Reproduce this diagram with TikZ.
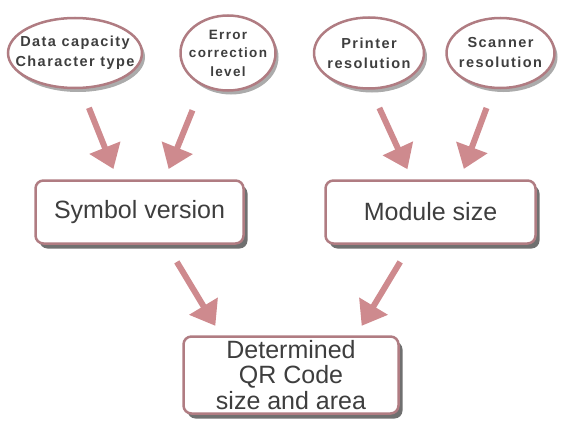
\documentclass[tikz,border=0pt]{standalone}
\usepackage{fontspec}
\setmainfont{Liberation Sans}
\newfontfamily\ellfont[LetterSpace=10]{Liberation Sans}
\usetikzlibrary{shapes}
\usetikzlibrary{arrows.meta}
\usetikzlibrary{positioning}
\usetikzlibrary{shadows}
\definecolor{rimrose}{RGB}{176,124,130}
\definecolor{arrowrose}{RGB}{206,138,142}
\definecolor{textgray}{RGB}{62,62,62}

\begin{document}
\begin{tikzpicture}[x=1pt,y=1pt,node distance=36pt,shorten <=20pt,shorten >=11pt]%,auto
        \tikzstyle{ell}=[ellipse, draw=rimrose, line width=2.5pt, fill=white, minimum width=134pt, minimum height=70pt, inner xsep=-14pt, inner ysep=-8pt, align=center, text=textgray, font=\ellfont\bfseries\fontsize{14.5}{20}\selectfont, drop shadow={shadow xshift=3pt, shadow yshift=-4pt, fill=black!55, opacity=.6}]
        \tikzstyle{box}=[rectangle, rounded corners=8pt, draw=rimrose, line width=2.5pt, fill=white, minimum height=63pt, inner ysep=1pt, align=center, text=textgray, font=\fontsize{25}{25.5}\selectfont, drop shadow={shadow xshift=4pt, shadow yshift=-5pt, fill=black!70, opacity=.8}]
        \tikzstyle{arr}=[-{Triangle[length=23pt,width=32pt]}, draw=arrowrose, line width=6pt]
        \useasboundingbox (0,0) rectangle (561,-428);
        \node[ell] (capacity) at (75,-53) {Data capacity\\Character type};
        \node[ell, right=of capacity, minimum width=95pt, minimum height=75pt, font=\ellfont\bfseries\fontsize{13.5}{18.5}\selectfont] (correction) {Error\\correction\\level};
        \node[ell, right=of correction, minimum width=110pt, minimum height=71pt] (printer) {Printer\\resolution};
        \node[ell, right=20pt of printer, minimum width=108pt, minimum height=70pt] (scanner) {Scanner\\resolution};
        \node[box, minimum width=208pt] (symbol) at (139.5,-212) {Symbol version};
        \node[box, minimum width=210pt] (module) at (430.5,-212) {Module size};
        \node[box, minimum width=215pt, minimum height=77pt] (qrsize) at (291,-375) {Determined\\QR Code\\size and area};
        \path [arr] ([xshift=6.5pt]capacity.south) -- ([xshift=-22pt]symbol.north);
        \path [arr] ([xshift=-28pt]correction.south) -- ([xshift=25pt]symbol.north);
        \path [arr] ([xshift=2pt]printer.south) -- ([xshift=-18.5pt]module.north);
        \path [arr] ([xshift=-7pt]scanner.south) -- ([xshift=29.5pt]module.north);
        \path [arr] ([xshift=27pt]symbol.south) -- ([xshift=-70pt]qrsize.north);
        \path [arr] ([xshift=-20pt]module.south) -- ([xshift=65pt]qrsize.north);
      \end{tikzpicture}
\end{document}
